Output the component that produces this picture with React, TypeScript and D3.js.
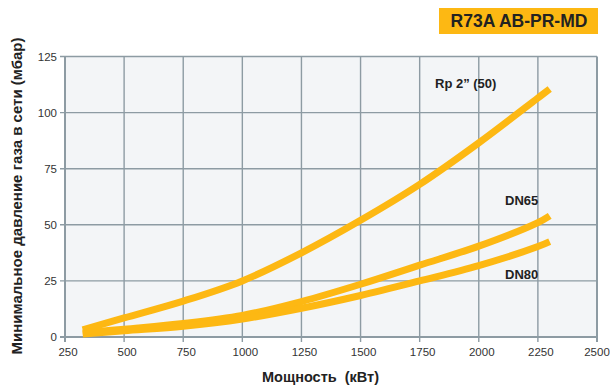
import { useRef, useEffect } from 'react';
import * as d3 from 'd3';

// Power (kW) sample points shared by all curves
const power = [325, 500, 750, 1000, 1250, 1500, 1750, 2000, 2250, 2300];
// Minimum gas pressure (mbar) for each connection size
const rp50 = [3.2, 8.5, 16, 25, 37.5, 52, 68, 86.5, 106.5, 110.5];
const dn65 = [1.8, 3.5, 6, 9.6, 15.8, 23.5, 32, 40.5, 51, 54];
const dn80 = [1.3, 2.8, 4.8, 8, 12.8, 18.5, 25, 31.8, 40.3, 42.5];
const seriesNames = ['Rp 2\u201d (50)', 'DN65', 'DN80'];

const xTicks = [250, 500, 750, 1000, 1250, 1500, 1750, 2000, 2250, 2500];
const yTicks = [0, 25, 50, 75, 100, 125];

function App() {
    const svgRef = useRef<SVGSVGElement | null>(null);

    const width = 610;
    const height = 387;
    const left = 65;
    const right = 597;
    const top = 56.5;
    const bottom = 337;

    useEffect(() => {
        // page without margin / scrollbars
        document.body.style.margin = '0';
        document.body.style.overflow = 'hidden';

        const svg = d3.select(svgRef.current);
        svg.selectAll('*').remove();

        const x = d3.scaleLinear().domain([250, 2500]).range([left, right]);
        const y = d3.scaleLinear().domain([0, 125]).range([bottom, top]);

        const gridColor = '#8d9ba3';
        const numFont = '"Liberation Sans Narrow", "Arial Narrow", Arial, sans-serif';
        const boldFont = 'Arial, "Liberation Sans", Helvetica, sans-serif';

        // Plot background
        svg.append('rect')
            .attr('x', left)
            .attr('y', top)
            .attr('width', right - left)
            .attr('height', bottom - top)
            .attr('fill', '#f3f5f7');

        // Vertical grid + ticks
        svg.append('g')
            .selectAll('line')
            .data(xTicks)
            .join('line')
            .attr('x1', (d) => x(d))
            .attr('x2', (d) => x(d))
            .attr('y1', top)
            .attr('y2', bottom + 5)
            .attr('stroke', gridColor)
            .attr('stroke-width', (d) => (d === 250 || d === 2500 ? 2 : 1.4));

        // Horizontal grid + ticks
        svg.append('g')
            .selectAll('line')
            .data(yTicks)
            .join('line')
            .attr('x1', left - 5)
            .attr('x2', right)
            .attr('y1', (d) => y(d))
            .attr('y2', (d) => y(d))
            .attr('stroke', gridColor)
            .attr('stroke-width', (d) => (d === 0 ? 2 : 1.4));

        // Tick labels
        svg.append('g')
            .selectAll('text')
            .data(xTicks)
            .join('text')
            .attr('x', (d, i) => x(d) + (i === xTicks.length - 1 ? 0 : 3))
            .attr('y', bottom + 19)
            .attr('text-anchor', 'middle')
            .style('font-family', numFont)
            .style('font-size', '11.5px')
            .style('fill', '#333')
            .text((d) => d);

        svg.append('g')
            .selectAll('text')
            .data(yTicks)
            .join('text')
            .attr('x', left - 8)
            .attr('y', (d) => y(d) + 4)
            .attr('text-anchor', 'end')
            .style('font-family', numFont)
            .style('font-size', '11.5px')
            .style('fill', '#333')
            .text((d) => d);

        // Curves
        const line = d3
            .line<[number, number]>()
            .x((d) => x(d[0]))
            .y((d) => y(d[1]))
            .curve(d3.curveCatmullRom.alpha(0.5));

        [rp50, dn65, dn80].forEach((vals) => {
            svg.append('path')
                .datum(power.map((p, i) => [p, vals[i]] as [number, number]))
                .attr('d', line)
                .attr('fill', 'none')
                .attr('stroke', '#fdb813')
                .attr('stroke-width', 7);
        });

        // Curve labels
        const labelPos = [
            [435, 88],
            [505, 205],
            [505, 279],
        ];
        svg.append('g')
            .selectAll('text')
            .data(seriesNames)
            .join('text')
            .attr('x', (d, i) => labelPos[i][0])
            .attr('y', (d, i) => labelPos[i][1])
            .style('font-family', boldFont)
            .style('font-weight', 'bold')
            .style('font-size', '13px')
            .style('fill', '#222')
            .text((d) => d);

        // Title badge
        svg.append('rect')
            .attr('x', 439)
            .attr('y', 8)
            .attr('width', 159)
            .attr('height', 26)
            .attr('fill', '#fdb813');
        svg.append('text')
            .attr('x', 519)
            .attr('y', 27)
            .attr('text-anchor', 'middle')
            .style('font-family', boldFont)
            .style('font-weight', 'bold')
            .style('font-size', '17.5px')
            .style('fill', '#222')
            .text('R73A AB-PR-MD');

        // Axis titles
        svg.append('text')
            .attr('x', 262)
            .attr('y', 382)
            .style('font-family', boldFont)
            .style('font-weight', 'bold')
            .style('font-size', '14.5px')
            .style('fill', '#222')
            .style('white-space', 'pre')
            .text('Мощность  (кВт)');

        svg.append('text')
            .attr('transform', 'translate(22, 196) rotate(-90)')
            .attr('text-anchor', 'middle')
            .style('font-family', boldFont)
            .style('font-weight', 'bold')
            .style('font-size', '15px')
            .style('fill', '#222')
            .text('Минимальное давление газа в сети (мбар)');
    }, []);

    return (
        <div>
            <svg ref={svgRef} width={width} height={height} style={{ display: 'block', background: '#fff' }}></svg>
        </div>
    );
}

export default App;
